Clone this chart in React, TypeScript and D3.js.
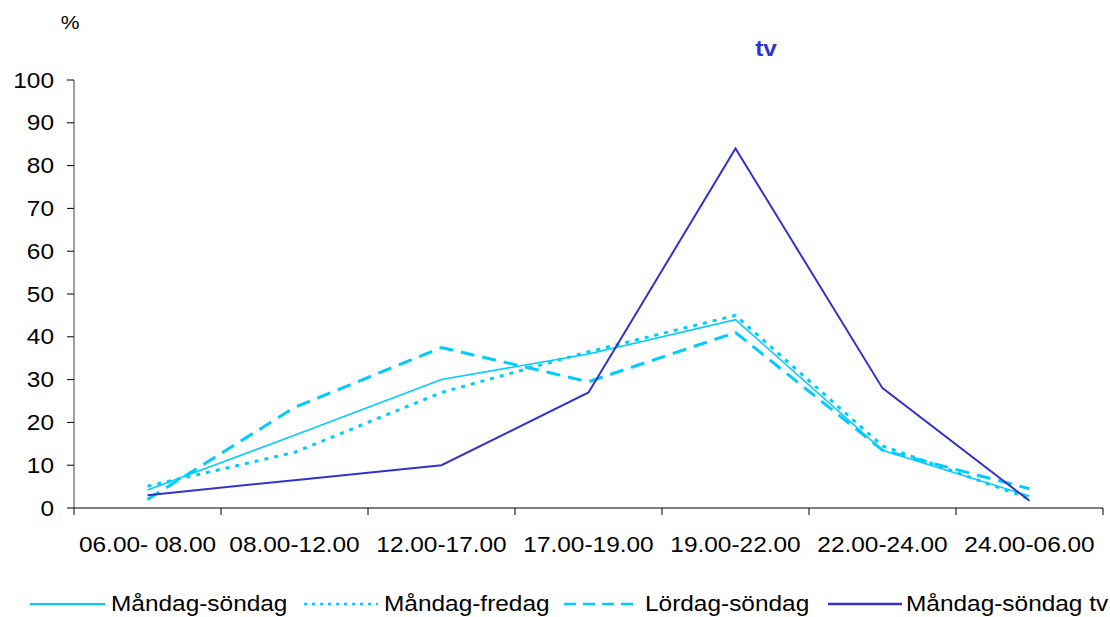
import React from "react";
import * as d3 from "d3";

const categories = ["06.00- 08.00", "08.00-12.00", "12.00-17.00", "17.00-19.00", "19.00-22.00", "22.00-24.00", "24.00-06.00"];
const manSon = [4.2, 17, 30, 36, 44, 13.5, 2.8];
const manFre = [5.1, 13, 27, 36.5, 45, 14.5, 2.2];
const lorSon = [2, 23.5, 37.5, 29.5, 41, 13.5, 4.5];
const manSonTv = [3, 6.5, 10, 27, 84, 28, 1.7];
const yTicks = [0, 10, 20, 30, 40, 50, 60, 70, 80, 90, 100];

const LIGHT = "#00CCFF";
const DARK = "#3333CC";

const series = [
  { name: "Måndag-söndag", values: manSon, color: LIGHT, width: 1.5, dash: "", legDash: "", legW: 2 },
  { name: "Måndag-fredag", values: manFre, color: LIGHT, width: 3, dash: "4,6", legDash: "3,5", legW: 2.5 },
  { name: "Lördag-söndag", values: lorSon, color: LIGHT, width: 3, dash: "14,8", legDash: "12,7", legW: 2.5 },
  { name: "Måndag-söndag tv", values: manSonTv, color: DARK, width: 2, dash: "", legDash: "", legW: 2.5 },
];

const SX = 1.11;

function T(props: { x: number; y: number; size: number; anchor?: string; fill?: string; bold?: boolean; children: React.ReactNode }) {
  const { x, y, size, anchor = "start", fill = "#000", bold = false, children } = props;
  return (
    <text
      transform={`translate(${x},${y}) scale(${SX},1)`}
      fontSize={size}
      textAnchor={anchor}
      fill={fill}
      fontWeight={bold ? "bold" : "normal"}
    >
      {children}
    </text>
  );
}

export default function App() {
  const W = 1110, H = 617;
  const left = 74, right = 1103, top = 80, bottom = 508;
  const x = d3.scaleBand<string>().domain(categories).range([left, right]);
  const y = d3.scaleLinear().domain([0, 100]).range([bottom, top]);
  const cx = (i: number) => (x(categories[i]) as number) + x.bandwidth() / 2;
  const line = d3.line<number>().x((_, i) => cx(i)).y((d) => y(d));
  const font = "'Liberation Sans', Arial, sans-serif";
  const boundaries = categories.map((c) => x(c) as number).concat([right]);
  const legendItems = [
    { x1: 30, x2: 105, tx: 111 },
    { x1: 304, x2: 378, tx: 384 },
    { x1: 564, x2: 640, tx: 645 },
    { x1: 828, x2: 902, tx: 906 },
  ];
  return (
    <svg width={W} height={H} style={{ position: "absolute", left: 0, top: 0, background: "#fff" }} fontFamily={font}>
      <rect width={W} height={H} fill="#fff" />
      <T x={70} y={29} size={19} anchor="middle">%</T>
      <T x={766} y={56} size={22} anchor="middle" fill={DARK} bold>tv</T>
      {/* y axis */}
      <line x1={left} x2={left} y1={top} y2={bottom} stroke="#808080" strokeWidth={1.5} />
      {yTicks.map((t) => (
        <g key={t}>
          <line x1={left - 7} x2={left} y1={y(t)} y2={y(t)} stroke="#000" strokeWidth={1} />
          <T x={54} y={y(t) + 7.5} size={22} anchor="end">{t}</T>
        </g>
      ))}
      {/* x axis */}
      <line x1={left} x2={right} y1={bottom} y2={bottom} stroke="#000" strokeWidth={1.2} />
      {boundaries.map((b, i) => (
        <line key={i} x1={b} x2={b} y1={bottom} y2={bottom + 7} stroke="#000" strokeWidth={1} />
      ))}
      {categories.map((c, i) => (
        <T key={c} x={cx(i)} y={552} size={22} anchor="middle">{c}</T>
      ))}
      {series.map((s) => (
        <path key={s.name} d={line(s.values) as string} fill="none" stroke={s.color} strokeWidth={s.width} strokeDasharray={s.dash || undefined} strokeLinejoin="miter" />
      ))}
      {series.map((s, i) => (
        <g key={s.name + "leg"}>
          <line x1={legendItems[i].x1} x2={legendItems[i].x2} y1={604} y2={604} stroke={s.color} strokeWidth={s.legW} strokeDasharray={s.legDash || undefined} />
          <T x={legendItems[i].tx} y={611} size={22}>{s.name}</T>
        </g>
      ))}
    </svg>
  );
}
